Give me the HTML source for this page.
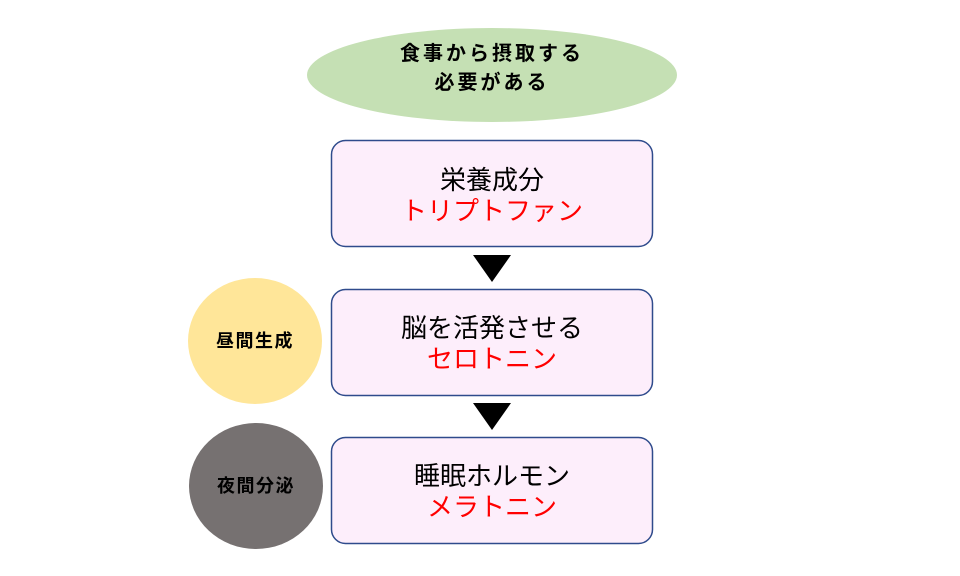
<!DOCTYPE html>
<html><head><meta charset="utf-8"><style>
html,body{margin:0;padding:0;background:#fff;}
svg{display:block;font-family:"Liberation Sans","Noto Sans CJK JP",sans-serif;}
</style></head><body>
<svg width="960" height="576" viewBox="0 0 960 576">
<ellipse cx="492" cy="75" rx="185" ry="47" fill="#c5e0b4"/>
<text x="492" y="54" font-size="20" font-weight="bold" letter-spacing="3" text-anchor="middle" dominant-baseline="central">食事から摂取する</text>
<text x="492" y="83" font-size="20" font-weight="bold" letter-spacing="3" text-anchor="middle" dominant-baseline="central">必要がある</text>

<g stroke="#2f4b8c" stroke-width="1.5" fill="#fdeefb">
<rect x="331.5" y="140.5" width="321" height="106" rx="14"/>
<rect x="331.5" y="289.5" width="321" height="106" rx="14"/>
<rect x="331.5" y="437.5" width="321" height="106" rx="14"/>
</g>
<g font-size="26" text-anchor="middle" dominant-baseline="central">
<text x="492" y="180">栄養成分</text>
<text x="492" y="211" fill="#ff0000">トリプトファン</text>
<text x="492" y="328">脳を活発させる</text>
<text x="492" y="359" fill="#ff0000">セロトニン</text>
<text x="492" y="476">睡眠ホルモン</text>
<text x="492" y="507" fill="#ff0000">メラトニン</text>
</g>
<polygon points="473,255 511,255 492,282" fill="#000"/>
<polygon points="473,403 511,403 492,430" fill="#000"/>

<ellipse cx="255" cy="341" rx="67" ry="63" fill="#ffe699"/>
<text x="255" y="341" font-size="18" font-weight="bold" letter-spacing="1.5" text-anchor="middle" dominant-baseline="central">昼間生成</text>
<ellipse cx="256" cy="486" rx="67" ry="63" fill="#767171"/>
<text x="256" y="486" font-size="18" font-weight="bold" letter-spacing="1.5" text-anchor="middle" dominant-baseline="central">夜間分泌</text>
</svg>
</body></html>
